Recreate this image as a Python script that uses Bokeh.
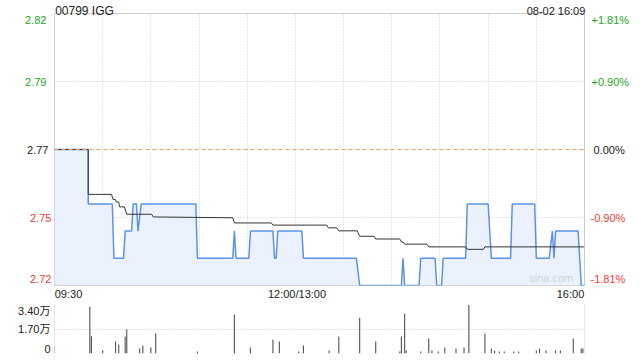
from bokeh.plotting import figure
from bokeh.models import Range1d, FixedTicker, Span, LinearAxis, Grid, Label
from bokeh.layouts import column
from bokeh.embed import file_html
from bokeh.resources import INLINE

# ---------------- data ----------------
title_text = "00799 IGG"
date_text = "08-02 16:09"
prev_close = 2.77
price_low, price_high = 2.72, 2.82
price_ticks = [2.82, 2.795, 2.77, 2.745, 2.72]
price_tick_labels = ["2.82", "2.79", "2.77", "2.75", "2.72"]
pct_tick_labels = ["+1.81%", "+0.90%", "0.00%", "-0.90%", "-1.81%"]
time_tick_labels = ["09:30", "12:00/13:00", "16:00"]
total_minutes = 330  # 09:30-12:00 + 13:00-16:00
grid_minutes = [30, 60, 90, 120, 150, 180, 210, 240, 270, 300]

# price line vertices (trading-minute index, price)
price_t = [0, 21, 21, 36, 37, 43, 44, 48, 49, 51, 52, 54, 88, 89, 111, 112, 113,
           121, 122, 136, 137, 138, 139, 154, 155, 188, 190, 216, 217, 218, 227,
           228, 237, 238, 241, 242, 256, 257, 270, 271, 272, 284, 285, 299, 300,
           308, 310, 311, 312, 326, 328, 330]
price_v = [2.77, 2.77, 2.75, 2.75, 2.73, 2.73, 2.74, 2.74, 2.75, 2.75, 2.74, 2.75,
           2.75, 2.73, 2.73, 2.74, 2.73, 2.73, 2.74, 2.74, 2.73, 2.73, 2.74, 2.74,
           2.73, 2.73, 2.72, 2.72, 2.73, 2.72, 2.72, 2.73, 2.73, 2.72, 2.72, 2.73,
           2.73, 2.75, 2.75, 2.74, 2.73, 2.73, 2.75, 2.75, 2.73, 2.73, 2.74, 2.73,
           2.74, 2.74, 2.72, 2.72]

# average price line vertices
avg_t = [0, 21, 21, 35.5, 36.5, 38, 38.5, 40, 40.5, 43.5, 45, 60.5, 61.5, 111,
         112, 135, 136, 169.5, 170.5, 175.7, 177, 188.5, 190, 199, 200, 215, 216,
         217, 218, 231.8, 233, 256, 257, 267, 268, 330]
avg_v = [2.77, 2.77, 2.7535, 2.7535, 2.7516, 2.7516, 2.7507, 2.7507, 2.7489,
         2.7489, 2.7462, 2.7462, 2.7452, 2.7449, 2.743, 2.743, 2.7422, 2.7422,
         2.7412, 2.7412, 2.7401, 2.7401, 2.7381, 2.7381, 2.7371, 2.7371, 2.736,
         2.736, 2.7352, 2.7352, 2.7342, 2.7342, 2.7333, 2.7333, 2.7342, 2.7342]

# volume bars (trading-minute index, shares)
vol_t = [0, 22, 23, 30, 38, 40, 44, 45, 53, 55, 60, 63, 89, 112, 122, 136, 140,
         152, 155, 171, 177, 190, 200, 215, 216, 218, 219, 228, 233, 235, 239,
         243, 250, 255, 258, 268, 272, 274, 277, 280, 286, 289, 300, 302, 306,
         312, 315, 323, 328, 329]
vol_v = [4100, 32600, 12000, 2300, 8300, 6200, 11800, 16600, 3500, 5500, 4100,
         13800, 1400, 27100, 4100, 9700, 8300, 1400, 5500, 2100, 11800, 24800,
         8300, 1400, 11800, 27600, 2100, 1400, 10400, 2100, 1400, 4100, 3500,
         4100, 33700, 13800, 3500, 2100, 1400, 1400, 1400, 1400, 2100, 3500,
         2100, 2100, 2100, 10400, 3500, 3500]
vol_max = 34000
vol_tick_labels = ["3.40万", "1.70万", "0"]

# ---------------- styles / layout ----------------
FONT = "Liberation Sans, Noto Sans CJK SC"
GREEN = "#1ea51e"
RED = "#f03a3a"
DARK = "#222222"
GRID = "#cccccc"
FRAME_W = 530
PRICE_H = 272
VOL_H = 49
PX_PER_MIN = FRAME_W / total_minutes
PRICE_PER_PX = (price_high - price_low) / PRICE_H
VOL_PER_PX = vol_max / VOL_H


def label_axis(fig, side, ticks, labels, color, standoff, size="11px"):
    ticks = list(ticks)
    ax = LinearAxis(ticker=FixedTicker(ticks=ticks),
                    major_label_overrides={t: l for t, l in zip(ticks, labels)},
                    major_tick_line_color=None, minor_tick_line_color=None,
                    major_tick_out=0, major_tick_in=0,
                    minor_tick_out=0, minor_tick_in=0,
                    axis_line_color=None, major_label_standoff=standoff,
                    major_label_text_font=FONT,
                    major_label_text_font_size=size,
                    major_label_text_color=color)
    fig.add_layout(ax, side)
    return ax


x_range = Range1d(0, total_minutes)

p = figure(frame_width=FRAME_W, frame_height=PRICE_H, x_range=x_range,
           y_range=Range1d(price_low, price_high),
           x_axis_location=None, y_axis_location=None, title_location=None,
           output_backend="svg", toolbar_location=None,
           min_border_left=54, min_border_right=56,
           min_border_top=13, min_border_bottom=17)
p.background_fill_color = "white"
p.border_fill_color = "white"
p.outline_line_color = GRID
p.grid.visible = False

p.add_layout(Grid(dimension=0, ticker=FixedTicker(ticks=grid_minutes),
                  grid_line_color=GRID, grid_line_dash="1 2"), "center")
p.add_layout(Grid(dimension=1,
                  ticker=FixedTicker(ticks=[price_ticks[1], price_ticks[3]]),
                  grid_line_color=GRID, grid_line_dash="1 2"), "center")
p.add_layout(Span(location=prev_close, dimension="width",
                  line_color="#f19a5c", line_dash="4 3", line_width=1))

p.varea(x=price_t, y1=[price_low] * len(price_t), y2=price_v,
        fill_color="#ebf2fd", fill_alpha=1.0)
p.line(price_t, price_v, line_color="#5b93ea", line_width=1.5)
p.line(avg_t, avg_v, line_color="#333333", line_width=1)

# label positions: end labels are nudged inside the frame (styling)
lab_pos = list(price_ticks)
lab_pos[0] = price_ticks[0] - 6.7 * PRICE_PER_PX
lab_pos[-1] = price_ticks[-1] + 7.0 * PRICE_PER_PX

# left price labels: stacked axes, one per colour, overlapping columns
label_axis(p, "left", lab_pos[3:], price_tick_labels[3:], RED, 3)
label_axis(p, "left", lab_pos[2:3], price_tick_labels[2:3], DARK, -21)
label_axis(p, "left", lab_pos[:2], price_tick_labels[:2], GREEN, -22)
# right percent labels
label_axis(p, "right", lab_pos[3:], pct_tick_labels[3:], RED, 6)
label_axis(p, "right", lab_pos[2:3], pct_tick_labels[2:3], DARK, -35)
label_axis(p, "right", lab_pos[:2], pct_tick_labels[:2], GREEN, -37)

# time labels below the price panel
t_pos = [14.0 / PX_PER_MIN, 151.0, total_minutes - 14.0 / PX_PER_MIN]
label_axis(p, "below", t_pos, time_tick_labels, DARK, 2)

# title and timestamp above
label_axis(p, "above", [30.0 / PX_PER_MIN], [title_text], DARK, -4, "12px")
label_axis(p, "above", [total_minutes - 28.5 / PX_PER_MIN], [date_text], DARK,
           -16, "11px")

p.add_layout(Label(x=323, y=price_low, text="sina.com", y_offset=1.5,
                   text_align="right", text_baseline="bottom",
                   text_font=FONT, text_font_size="11px",
                   text_color="#d2d2d2"))

# ---------------- volume panel ----------------
v = figure(frame_width=FRAME_W, frame_height=VOL_H, x_range=x_range,
           y_range=Range1d(0, vol_max),
           x_axis_location=None, y_axis_location=None, title_location=None,
           output_backend="svg", toolbar_location=None,
           min_border_left=54, min_border_right=56,
           min_border_top=2, min_border_bottom=5)
v.background_fill_color = "white"
v.border_fill_color = "white"
v.outline_line_color = None
v.grid.visible = False

vol_pos = [vol_max - 6 * VOL_PER_PX, vol_max / 2, 4.7 * VOL_PER_PX]
label_axis(v, "left", vol_pos, vol_tick_labels, DARK, 4)

v.add_layout(Grid(dimension=1, ticker=FixedTicker(ticks=[0, vol_max / 2, vol_max]),
                  grid_line_color=GRID, grid_line_dash="1 2"), "center")
v.add_layout(Span(location=0, dimension="height", line_color=GRID))
v.add_layout(Span(location=total_minutes, dimension="height", line_color=GRID))

v.vbar(x=vol_t, top=vol_v, bottom=0, width=0.7, fill_color="#555555",
       line_color=None)

layout = column(p, v, spacing=0)
open("out.html", "w").write(file_html(layout, INLINE))
